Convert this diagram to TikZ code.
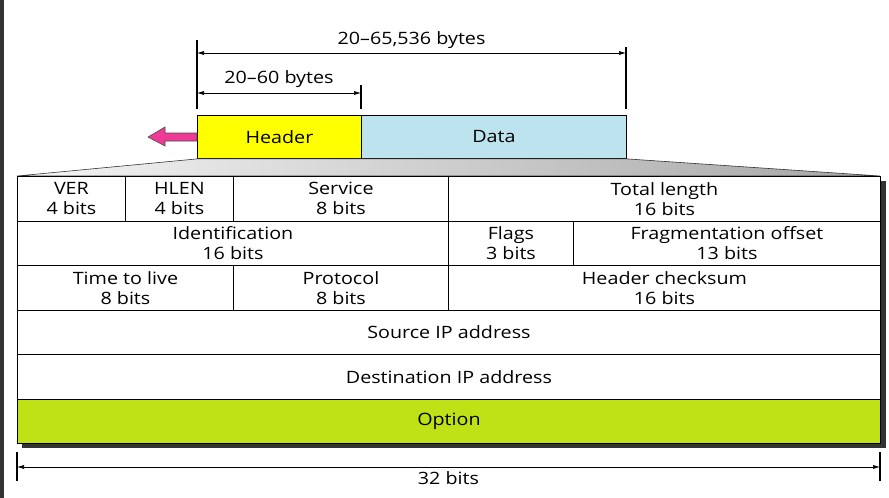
\documentclass[tikz,border=0pt]{standalone}
\usepackage{fontspec}
\setmainfont{Open Sans}[FakeStretch=1.16]
\usetikzlibrary{arrows.meta}
\definecolor{hdryellow}{RGB}{255,255,0}
\definecolor{datablue}{RGB}{189,227,238}
\definecolor{optgreen}{RGB}{191,226,22}
\definecolor{arrowpink}{RGB}{238,58,150}
\begin{document}
\begin{tikzpicture}[x=1pt,y=-1pt,
  font=\fontsize{17}{20}\selectfont,
  cell/.style={draw,fill=white,line width=0.9pt,anchor=north west,inner sep=0pt,
    minimum height=44.5pt,align=center},
  dim/.style={line width=0.6pt,{Latex[length=7pt,width=4pt]}-{Latex[length=7pt,width=4pt]}},
  tickline/.style={line width=1.3pt}]
\useasboundingbox (0,0) rectangle (889,498);
\fill[black!80] (0,0) rectangle (4,498);

% packet
\node[cell,fill=hdryellow,minimum width=164pt,minimum height=43pt] (header) at (197,115) {Header};
\node[cell,fill=datablue,minimum width=265pt,minimum height=43pt] (data) at (361,115) {Data};
\filldraw[fill=arrowpink,draw=black!70,line width=0.6pt] (197,133) -- (165,133) -- (165,127) -- (148,137)
  -- (165,146) -- (165,141) -- (197,141) -- cycle;

% lengths
\coordinate (totL) at (197,53);
\coordinate (totR) at (626,53);
\coordinate (hdrR) at (361,93);
\draw[tickline] (197,40) -- (197,109);
\draw[tickline] (626,47) -- (626,109);
\draw[tickline] (361,85) -- (361,109);
\draw[dim] (totL) -- node[above,yshift=1pt] {20--65,536 bytes} (totR);
\draw[dim] (totL |- hdrR) -- node[above,yshift=2pt] {20--60 bytes} (hdrR);

% header fields
\shade[left color=gray!8,right color=gray!70,draw=black!80,line width=0.6pt]
  (header.south west) -- (data.south east) -- (880,176) -- (17,176) -- cycle;
\fill[black!80] (22,181) rectangle (886,448);
\node[cell,minimum width=108pt] (ver) at (17,176) {VER\\4 bits};
\node[cell,minimum width=108pt] (hlen) at (125,176) {HLEN\\4 bits};
\node[cell,minimum width=215pt] (service) at (233,176) {Service\\8 bits};
\node[cell,minimum width=432pt] (totlen) at (448,176) {Total length\\16 bits};
\node[cell,minimum width=431pt] (ident) at (17,220.5) {Identification\\16 bits};
\node[cell,minimum width=125pt] (flags) at (448,220.5) {Flags\\3 bits};
\node[cell,minimum width=307pt] (fragoff) at (573,220.5) {Fragmentation offset\\13 bits};
\node[cell,minimum width=216pt] (ttl) at (17,265) {Time to live\\8 bits};
\node[cell,minimum width=215pt] (proto) at (233,265) {Protocol\\8 bits};
\node[cell,minimum width=432pt] (checksum) at (448,265) {Header checksum\\16 bits};
\node[cell,minimum width=863pt] (srcip) at (17,309.5) {Source IP address};
\node[cell,minimum width=863pt] (dstip) at (17,354) {Destination IP address};
\node[cell,minimum width=863pt,fill=optgreen] (option) at (17,398.5) {Option};

% width
\coordinate (bitL) at (17,467);
\coordinate (bitR) at (880,467);
\draw[tickline] (17,452) -- (17,481);
\draw[tickline] (880,452) -- (880,481);
\draw[dim] (bitL) -- node[below,yshift=-1pt] {32 bits} (bitR);
\end{tikzpicture}
\end{document}
